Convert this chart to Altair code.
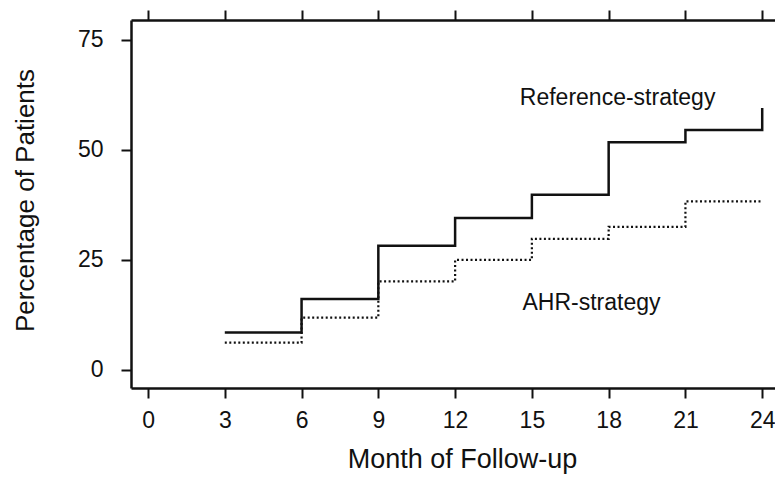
import altair as alt
import pandas as pd

months = [3, 6, 9, 12, 15, 18, 21, 24]
reference = [8.5, 16.1, 28.2, 34.5, 39.8, 51.7, 54.5, 59.5]
ahr = [6.2, 11.9, 20.1, 25.0, 29.8, 32.5, 38.3, 38.3]
series_names = ["Reference-strategy", "AHR-strategy"]
x_ticks = [0, 3, 6, 9, 12, 15, 18, 21, 24]
y_ticks = [0, 25, 50, 75]
label_text = ["Reference-strategy", "AHR-strategy"]
label_month = [18.35, 17.33]
label_pct = [60.2, 13.6]

df = pd.DataFrame({
    "month": months + months,
    "pct": reference + ahr,
    "series": [series_names[0]] * len(months) + [series_names[1]] * len(months),
})
labels_df = pd.DataFrame({"month": label_month, "pct": label_pct, "label": label_text})

FONT = "Liberation Sans"
INK = "#111111"

xscale = alt.Scale(domain=[-0.665, 24.5], nice=False, zero=False)
yscale = alt.Scale(domain=[-4.1, 79.5], nice=False, zero=False)

common_axis = dict(
    domainColor=INK, domainWidth=2.5, tickColor=INK, tickWidth=2,
    grid=False, labelFont=FONT, labelColor=INK, titleFont=FONT,
    titleColor=INK, titleFontWeight="normal",
)

x_bottom = alt.Axis(
    orient="bottom", values=x_ticks, tickSize=10, labelFontSize=23,
    labelPadding=11, labelFlush=False, title="Month of Follow-up",
    titleFontSize=27, titleX=331, titleY=79, titleBaseline="alphabetic",
    titleAlign="center", **common_axis,
)
x_top = alt.Axis(
    orient="top", values=x_ticks, tickSize=10, labels=False, title=None,
    **common_axis,
)
y_left = alt.Axis(
    orient="left", values=y_ticks, tickSize=10, labelFontSize=23,
    labelPadding=18, title="Percentage of Patients", titleFontSize=26,
    titleX=-98, titleY=180, titleAngle=270, titleBaseline="alphabetic",
    titleAlign="center", **common_axis,
)

lines = alt.Chart(df).mark_line(interpolate="step-after", color=INK).encode(
    x=alt.X("month:Q", scale=xscale, axis=x_bottom),
    y=alt.Y("pct:Q", scale=yscale, axis=y_left),
    strokeDash=alt.StrokeDash(
        "series:N",
        scale=alt.Scale(domain=series_names, range=[[1, 0], [2, 2.5]]),
        legend=None,
    ),
    strokeWidth=alt.StrokeWidth(
        "series:N",
        scale=alt.Scale(domain=series_names, range=[2.5, 2.2]),
        legend=None,
    ),
)

texts = alt.Chart(labels_df).mark_text(
    font=FONT, fontSize=23, color=INK, align="center", baseline="alphabetic"
).encode(
    x=alt.X("month:Q", scale=xscale, axis=x_top),
    y=alt.Y("pct:Q", scale=yscale, axis=y_left),
    text="label:N",
)

chart = alt.layer(lines, texts).properties(
    width=644,
    height=368,
    autosize=alt.AutoSizeParams(type="none"),
    padding={"left": 123, "top": 12, "right": 0, "bottom": 87},
    background="white",
).configure_view(stroke=None)

chart.save("out.html", embed_options={"renderer": "svg", "actions": False})
